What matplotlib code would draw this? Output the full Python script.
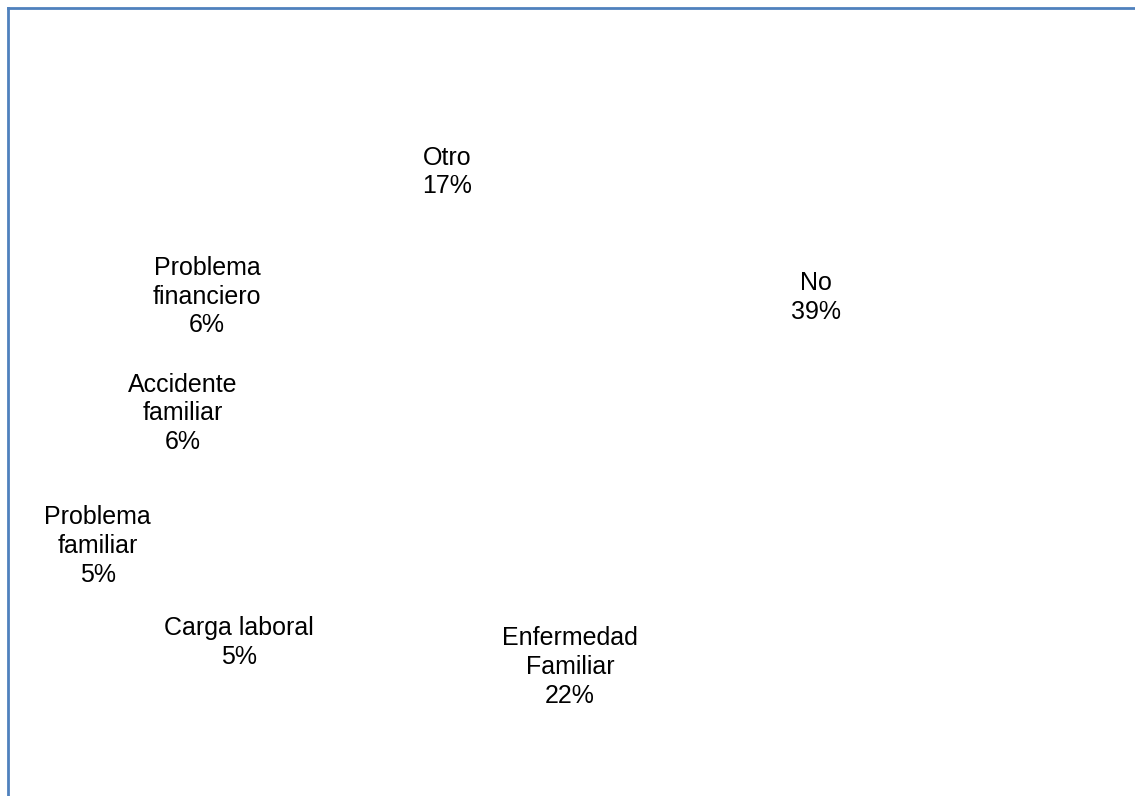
import matplotlib
matplotlib.use("Agg")
import matplotlib.pyplot as plt
from matplotlib.lines import Line2D
import numpy as np

# datos del grafico
categorias = ["No", "Enfermedad\nFamiliar", "Carga laboral", "Problema\nfamiliar",
              "Accidente\nfamiliar", "Problema\nfinanciero", "Otro"]
porcentajes = [39, 22, 5, 5, 6, 6, 17]

# posicion de cada etiqueta: (distancia radial, desplazamiento tangencial) en radios
pos_etiquetas = [(1.30, 0.015), (1.42, 0.0), (2.10, 0.12), (2.49, 0.19),
                 (1.94, -0.03), (1.86, -0.15), (1.22, 0.01)]

W, H = 1135, 796
fig = plt.figure(figsize=(W / 100, H / 100), dpi=100)
ax = fig.add_axes([0, 0, 1, 1])

centro = (570, 413)
radio = 200
wedges, _ = ax.pie(porcentajes, startangle=90, counterclock=False,
                   colors=["white"] * len(porcentajes), center=centro, radius=radio,
                   wedgeprops=dict(linewidth=0))
ax.set_xlim(0, W)
ax.set_ylim(0, H)
ax.axis("off")

for w, cat, val, (dr, dt) in zip(wedges, categorias, porcentajes, pos_etiquetas):
	phi = np.deg2rad((w.theta1 + w.theta2) / 2)
	ur = np.array([np.cos(phi), np.sin(phi)])
	ut = np.array([np.sin(phi), -np.cos(phi)])
	x, y = np.array(centro) + radio * (dr * ur + dt * ut)
	ax.text(x, y, f"{cat}\n{val}%", ha="center", va="center", fontsize=18,
	        family="Liberation Sans", linespacing=1.25, color="black")

# borde del area del grafico
col = "#4F81BD"
fig.add_artist(Line2D([7.5 / W, 1], [1 - 8 / H, 1 - 8 / H], transform=fig.transFigure,
                      color=col, lw=2))
fig.add_artist(Line2D([7.5 / W, 7.5 / W], [0, 1 - 8 / H], transform=fig.transFigure,
                      color=col, lw=2))

fig.savefig("out.png", dpi=100)
